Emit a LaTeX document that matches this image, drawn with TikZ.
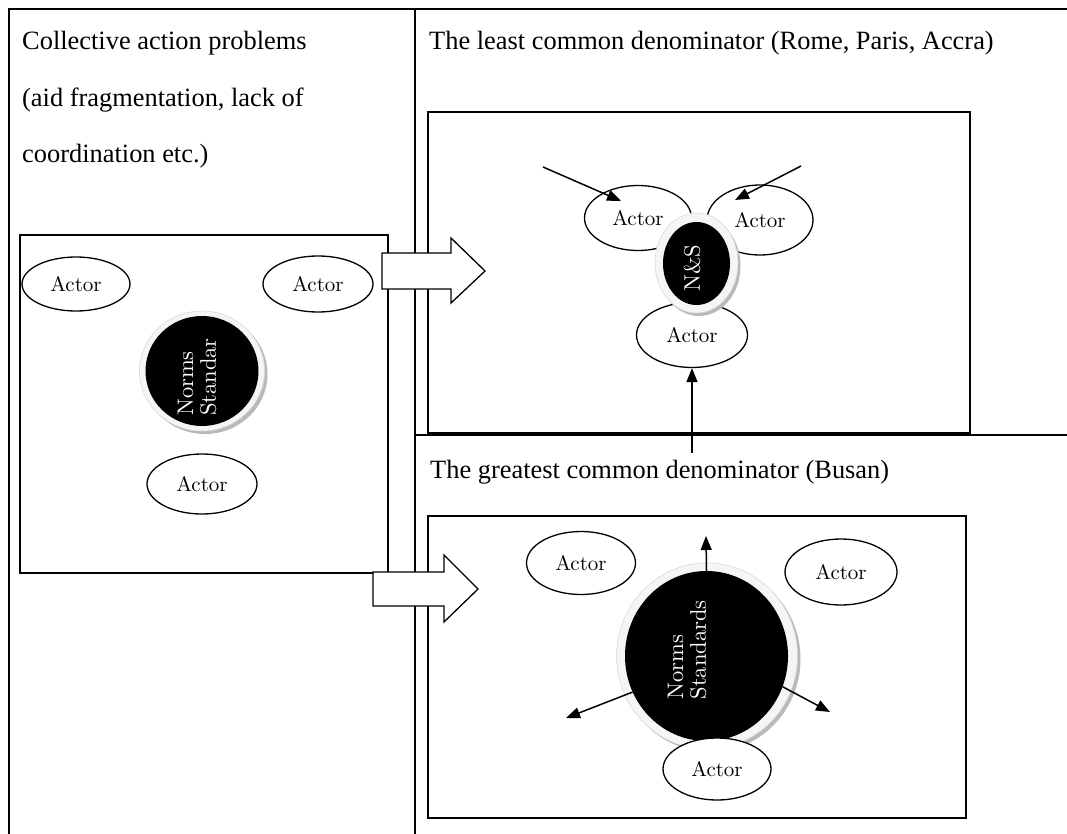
\documentclass[tikz,border=0pt]{standalone}
\usepackage{fontspec}
\newfontfamily\headfont{Liberation Serif}
\usetikzlibrary{shapes.geometric,arrows.meta}

% set a label at 10pt design size, then enlarge it
\newcommand{\enlarged}[2]{\scalebox{#1}{\fontsize{10}{12}\selectfont\shortstack[l]{#2}}}

\begin{document}
\begin{tikzpicture}[x=1pt,y=-1pt,
  rule/.style={line width=1.6pt},
  panel/.style={draw,line width=1.5pt},
  actor/.style={ellipse,draw,line width=1.3pt,fill=white,inner sep=0pt},
  ring/.style={ellipse,fill=gray!8,draw=gray!30,line width=0.6pt,inner sep=0pt},
  shade/.style={ellipse,fill=gray!55,inner sep=0pt},
  core/.style={ellipse,fill=black,inner sep=0pt},
  coretext/.style={text=white,rotate=90,inner sep=0pt},
  heading/.style={anchor=base west,inner sep=0pt,
    font=\headfont\fontsize{26.4}{30}\selectfont},
  push/.style={line width=1.5pt,-{Triangle[length=14pt,width=11pt]}},
  block/.style={draw,line width=1.3pt,fill=white,line join=miter}
]
\useasboundingbox (0,0) rectangle (1067,834);

% table rules
\draw[rule] (9,834) -- (9,9) -- (1067,9);
\draw[rule] (415,9) -- (415,834);
\draw[rule] (415,435) -- (1067,435);

% headings
\node[heading] (h1a) at (22,50) {Collective action problems};
\node[heading] (h1b) at (22,107) {(aid fragmentation, lack of};
\node[heading] (h1c) at (22,163) {coordination etc.)};
\node[heading] (h2) at (429,50) {The least common denominator (Rome, Paris, Accra)};
\node[heading] (h3) at (430,478) {The greatest common denominator (Busan)};

% panels
\draw[panel] (20,235) rectangle (388,573);
\draw[panel] (428,112) rectangle (970,433);
\draw[panel] (428,516) rectangle (966,818);

% left panel: scattered actors
\node[actor,minimum width=108pt,minimum height=54pt] (la1) at (76,284) {\enlarged{2.1}{Actor}};
\node[actor,minimum width=110pt,minimum height=56pt] (la2) at (318,284) {\enlarged{2.1}{Actor}};
\node[actor,minimum width=110pt,minimum height=60pt] (la3) at (202,484) {\enlarged{2.1}{Actor}};
\node[shade,minimum width=125pt,minimum height=120pt] (lsh) at (205,374) {};
\node[ring,minimum width=125pt,minimum height=120pt] (lring) at (202,371) {};
\node[core,minimum width=113pt,minimum height=110pt] (lcore) at (202,371) {};
\node[coretext] (ltext) at (197,377) {\enlarged{2.25}{Norms\\Standar}};

% top right: minimal core
\node[actor,minimum width=107pt,minimum height=65pt] (ta1) at (638,218) {\enlarged{2.1}{Actor}};
\node[actor,minimum width=106pt,minimum height=70pt] (ta2) at (760,220) {\enlarged{2.1}{Actor}};
\node[actor,minimum width=111pt,minimum height=65pt] (ta3) at (692,335) {\enlarged{2.1}{Actor}};
\node[shade,minimum width=83pt,minimum height=100pt] (tsh) at (699,266) {};
\node[ring,minimum width=83pt,minimum height=100pt] (tring) at (696.5,263) {};
\node[core,minimum width=67pt,minimum height=83pt] (tcore) at (696.5,263.5) {};
\node[coretext] (ttext) at (692,268) {\enlarged{2.25}{N\&S}};

% bottom right: broad core
\node[actor,minimum width=109pt,minimum height=63pt] (ba1) at (581,563) {\enlarged{2.1}{Actor}};
\node[actor,minimum width=112pt,minimum height=66pt] (ba2) at (841,572) {\enlarged{2.1}{Actor}};
\node[shade,minimum width=181pt,minimum height=186pt] (bsh) at (710,659) {};
\node[ring,minimum width=181pt,minimum height=186pt] (bring) at (707,656) {};
\node[core,minimum width=163pt,minimum height=170pt] (bcore) at (706.5,656) {};
\node[coretext] (btext) at (687,650) {\enlarged{2.25}{Norms\\Standards}};
\node[actor,minimum width=108pt,minimum height=62pt] (ba3) at (717,769) {\enlarged{2.1}{Actor}};

% block arrows between panels
\draw[block] (382,253) -- (451,253) -- (451,238) -- (485,271) -- (451,303) -- (451,289) -- (382,289) -- cycle;
\draw[block] (373,572) -- (444,572) -- (444,555) -- (478,589) -- (444,622) -- (444,606) -- (373,606) -- cycle;

% inward pressure arrows
\coordinate (tin1) at (543,167);
\coordinate (tin2) at (801,166);
\coordinate (tin3) at (692,453);
\coordinate (tend1) at (621,201);
\coordinate (tend2) at (735,200);
\draw[push] (tin1) -- (tend1);
\draw[push] (tin2) -- (tend2);
\draw[push] (tin3) -- (ta3.south);

% outward pressure arrows
\coordinate (bout1) at (706,536);
\coordinate (bout2) at (566,718);
\coordinate (bout3) at (830,712);
\draw[push] (bcore.north) -- (bout1);
\draw[push] (bcore.-154) -- (bout2);
\draw[push] (bcore.-22) -- (bout3);
\end{tikzpicture}
\end{document}
